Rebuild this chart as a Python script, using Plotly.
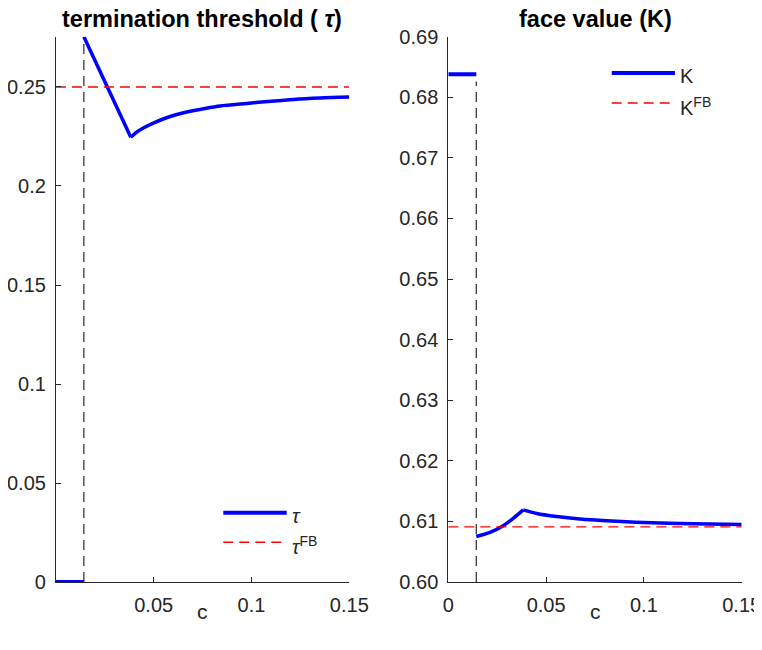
import plotly.graph_objects as go

# ---------------- data ----------------
c_cut = 0.0143            # threshold c where regime switches
c_kink = 0.0383           # kink of the curves
c_max = 0.15

# tau (left panel)
c_tau_low = [0.0, c_cut]
tau_low = [0.0, 0.0]
c_tau_down = [c_cut, c_kink]
tau_down = [0.2754, 0.2246]
c_tau_up = [c_kink, 0.0415, 0.0447, 0.0498, 0.0584, 0.0669, 0.0754, 0.0839, 0.0976, 0.1100, 0.1215, 0.1350, 0.15]
tau_up = [0.2246, 0.2273, 0.2293, 0.2318, 0.2351, 0.2374, 0.2390, 0.2404, 0.2417, 0.2428, 0.2437, 0.2444, 0.2449]
tau_fb = 0.25

# K (right panel)
c_K_low = [0.0, c_cut]
K_low = [0.6838, 0.6838]
c_K_up = [c_cut, 0.0213, 0.0281, 0.0332, c_kink]
K_up = [0.6075, 0.6082, 0.6093, 0.6105, 0.6119]
c_K_down = [c_kink, 0.0452, 0.0554, 0.0673, 0.0810, 0.1000, 0.1250, 0.15]
K_down = [0.6119, 0.6113, 0.6108, 0.6104, 0.6101, 0.6098, 0.6096, 0.6095]
K_fb = 0.6091

left_yticks = [0, 0.05, 0.1, 0.15, 0.2, 0.25]
left_xticks = [0.05, 0.1, 0.15]
right_yticks = [0.6, 0.61, 0.62, 0.63, 0.64, 0.65, 0.66, 0.67, 0.68, 0.69]
right_xticks = [0, 0.05, 0.1, 0.15]

# ---------------- style ----------------
OFF = 8  # page body margin offset
W, H = 762 - OFF, 650 - 2 * OFF
BLUE = "#0000ff"
RED = "#ff0000"
AX = "#262626"
FONT = "Liberation Sans"
DASH = "10px,6px"

def px_x(p):
    return (p - OFF) / W

def px_y(p):
    return 1 - (p - OFF) / H

fig = go.Figure()

def blue(x, y, xa, ya, shape="linear", width=3.5):
    fig.add_trace(go.Scatter(x=x, y=y, mode="lines", line=dict(color=BLUE, width=width, shape=shape,
                                                               smoothing=0.8),
                             xaxis=xa, yaxis=ya, showlegend=False))

# left panel
blue(c_tau_low, tau_low, "x", "y", width=4)
blue(c_tau_down, tau_down, "x", "y")
blue(c_tau_up, tau_up, "x", "y", shape="spline")
fig.add_trace(go.Scatter(x=[0, c_max], y=[tau_fb, tau_fb], mode="lines",
                         line=dict(color=RED, width=1.4, dash=DASH), xaxis="x", yaxis="y", showlegend=False))
fig.add_trace(go.Scatter(x=[c_cut, c_cut], y=[0, tau_down[0]], mode="lines",
                         line=dict(color=AX, width=1.2, dash=DASH), xaxis="x", yaxis="y", showlegend=False))

# right panel
blue(c_K_low, K_low, "x2", "y2", width=4)
blue(c_K_up, K_up, "x2", "y2", shape="spline")
blue(c_K_down, K_down, "x2", "y2", shape="spline")
fig.add_trace(go.Scatter(x=[0, c_max], y=[K_fb, K_fb], mode="lines",
                         line=dict(color=RED, width=1.4, dash=DASH), xaxis="x2", yaxis="y2", showlegend=False))
fig.add_trace(go.Scatter(x=[c_cut, c_cut], y=[0.6, 0.6826], mode="lines",
                         line=dict(color=AX, width=1.2, dash=DASH), xaxis="x2", yaxis="y2", showlegend=False))

axis_common = dict(showline=True, linecolor=AX, linewidth=1, ticks="inside", ticklen=5,
                   tickcolor=AX, tickwidth=1, showgrid=False, zeroline=False, mirror=False,
                   automargin=False, ticklabeloverflow="allow",
                   tickfont=dict(family=FONT, size=20, color=AX))
xaxis_common = dict(axis_common, ticklabelstandoff=5)
yaxis_common = dict(axis_common, ticklabelstandoff=5)

ydom = [px_y(582), px_y(36.7)]
fig.update_layout(
    width=W, height=H, margin=dict(l=0, r=0, t=0, b=0, autoexpand=False),
    plot_bgcolor="white", paper_bgcolor="white", showlegend=False,
    xaxis=dict(domain=[px_x(55.9), px_x(349.3)], range=[0, c_max], tickvals=left_xticks,
               ticktext=["0.05", "0.1", "0.15"], anchor="y", **xaxis_common),
    yaxis=dict(domain=ydom, range=[0, tau_down[0]], tickvals=left_yticks,
               ticktext=["0", "0.05", "0.1", "0.15", "0.2", "0.25"], anchor="x", **yaxis_common),
    xaxis2=dict(domain=[px_x(448.3), px_x(741.7)], range=[0, c_max], tickvals=right_xticks,
                ticktext=["0", "0.05", "0.1", "0.15"], anchor="y2", **xaxis_common),
    yaxis2=dict(domain=ydom, range=[0.6, 0.69], tickvals=right_yticks,
                ticktext=[f"{v:.2f}" for v in right_yticks[:-1]] + ["0.69"], anchor="x2", **yaxis_common),
)

ann = []
# titles
ann.append(dict(text="<b>termination threshold ( <i>τ</i>)</b>", x=px_x(202), y=px_y(34),
                xref="paper", yref="paper", xanchor="center", yanchor="bottom", showarrow=False,
                font=dict(family=FONT, size=23.5, color="#000000")))
ann.append(dict(text="<b>face value (K)</b>", x=px_x(595), y=px_y(34),
                xref="paper", yref="paper", xanchor="center", yanchor="bottom", showarrow=False,
                font=dict(family=FONT, size=23.5, color="#000000")))
# x labels
for xc in (202.6, 595):
    ann.append(dict(text="c", x=px_x(xc), y=px_y(611), xref="paper", yref="paper",
                    xanchor="center", yanchor="middle", showarrow=False,
                    font=dict(family=FONT, size=21, color=AX)))

# legends (manual, MATLAB-like long sample lines)
shapes = []
def legend_item(x0, x1, yc, color, width, dash, label):
    shapes.append(dict(type="line", xref="paper", yref="paper", x0=px_x(x0), x1=px_x(x1),
                       y0=px_y(yc), y1=px_y(yc), line=dict(color=color, width=width, dash=dash)))
    ann.append(dict(text=label, x=px_x(x1 + 3), y=px_y(yc + 3), xref="paper", yref="paper",
                    xanchor="left", yanchor="middle", showarrow=False,
                    font=dict(family=FONT, size=20, color=AX)))

legend_item(223.3, 286.7, 512.7, BLUE, 4, "solid", "<i>τ</i>")
legend_item(223.3, 286.7, 542.3, RED, 1.4, DASH, "<i>τ</i><sup>FB</sup>")
legend_item(611.7, 675, 73, BLUE, 4, "solid", "K")
legend_item(611.7, 675, 103, RED, 1.4, DASH, "K<sup>FB</sup>")

fig.update_layout(annotations=ann, shapes=shapes)
fig.write_html("out.html")
